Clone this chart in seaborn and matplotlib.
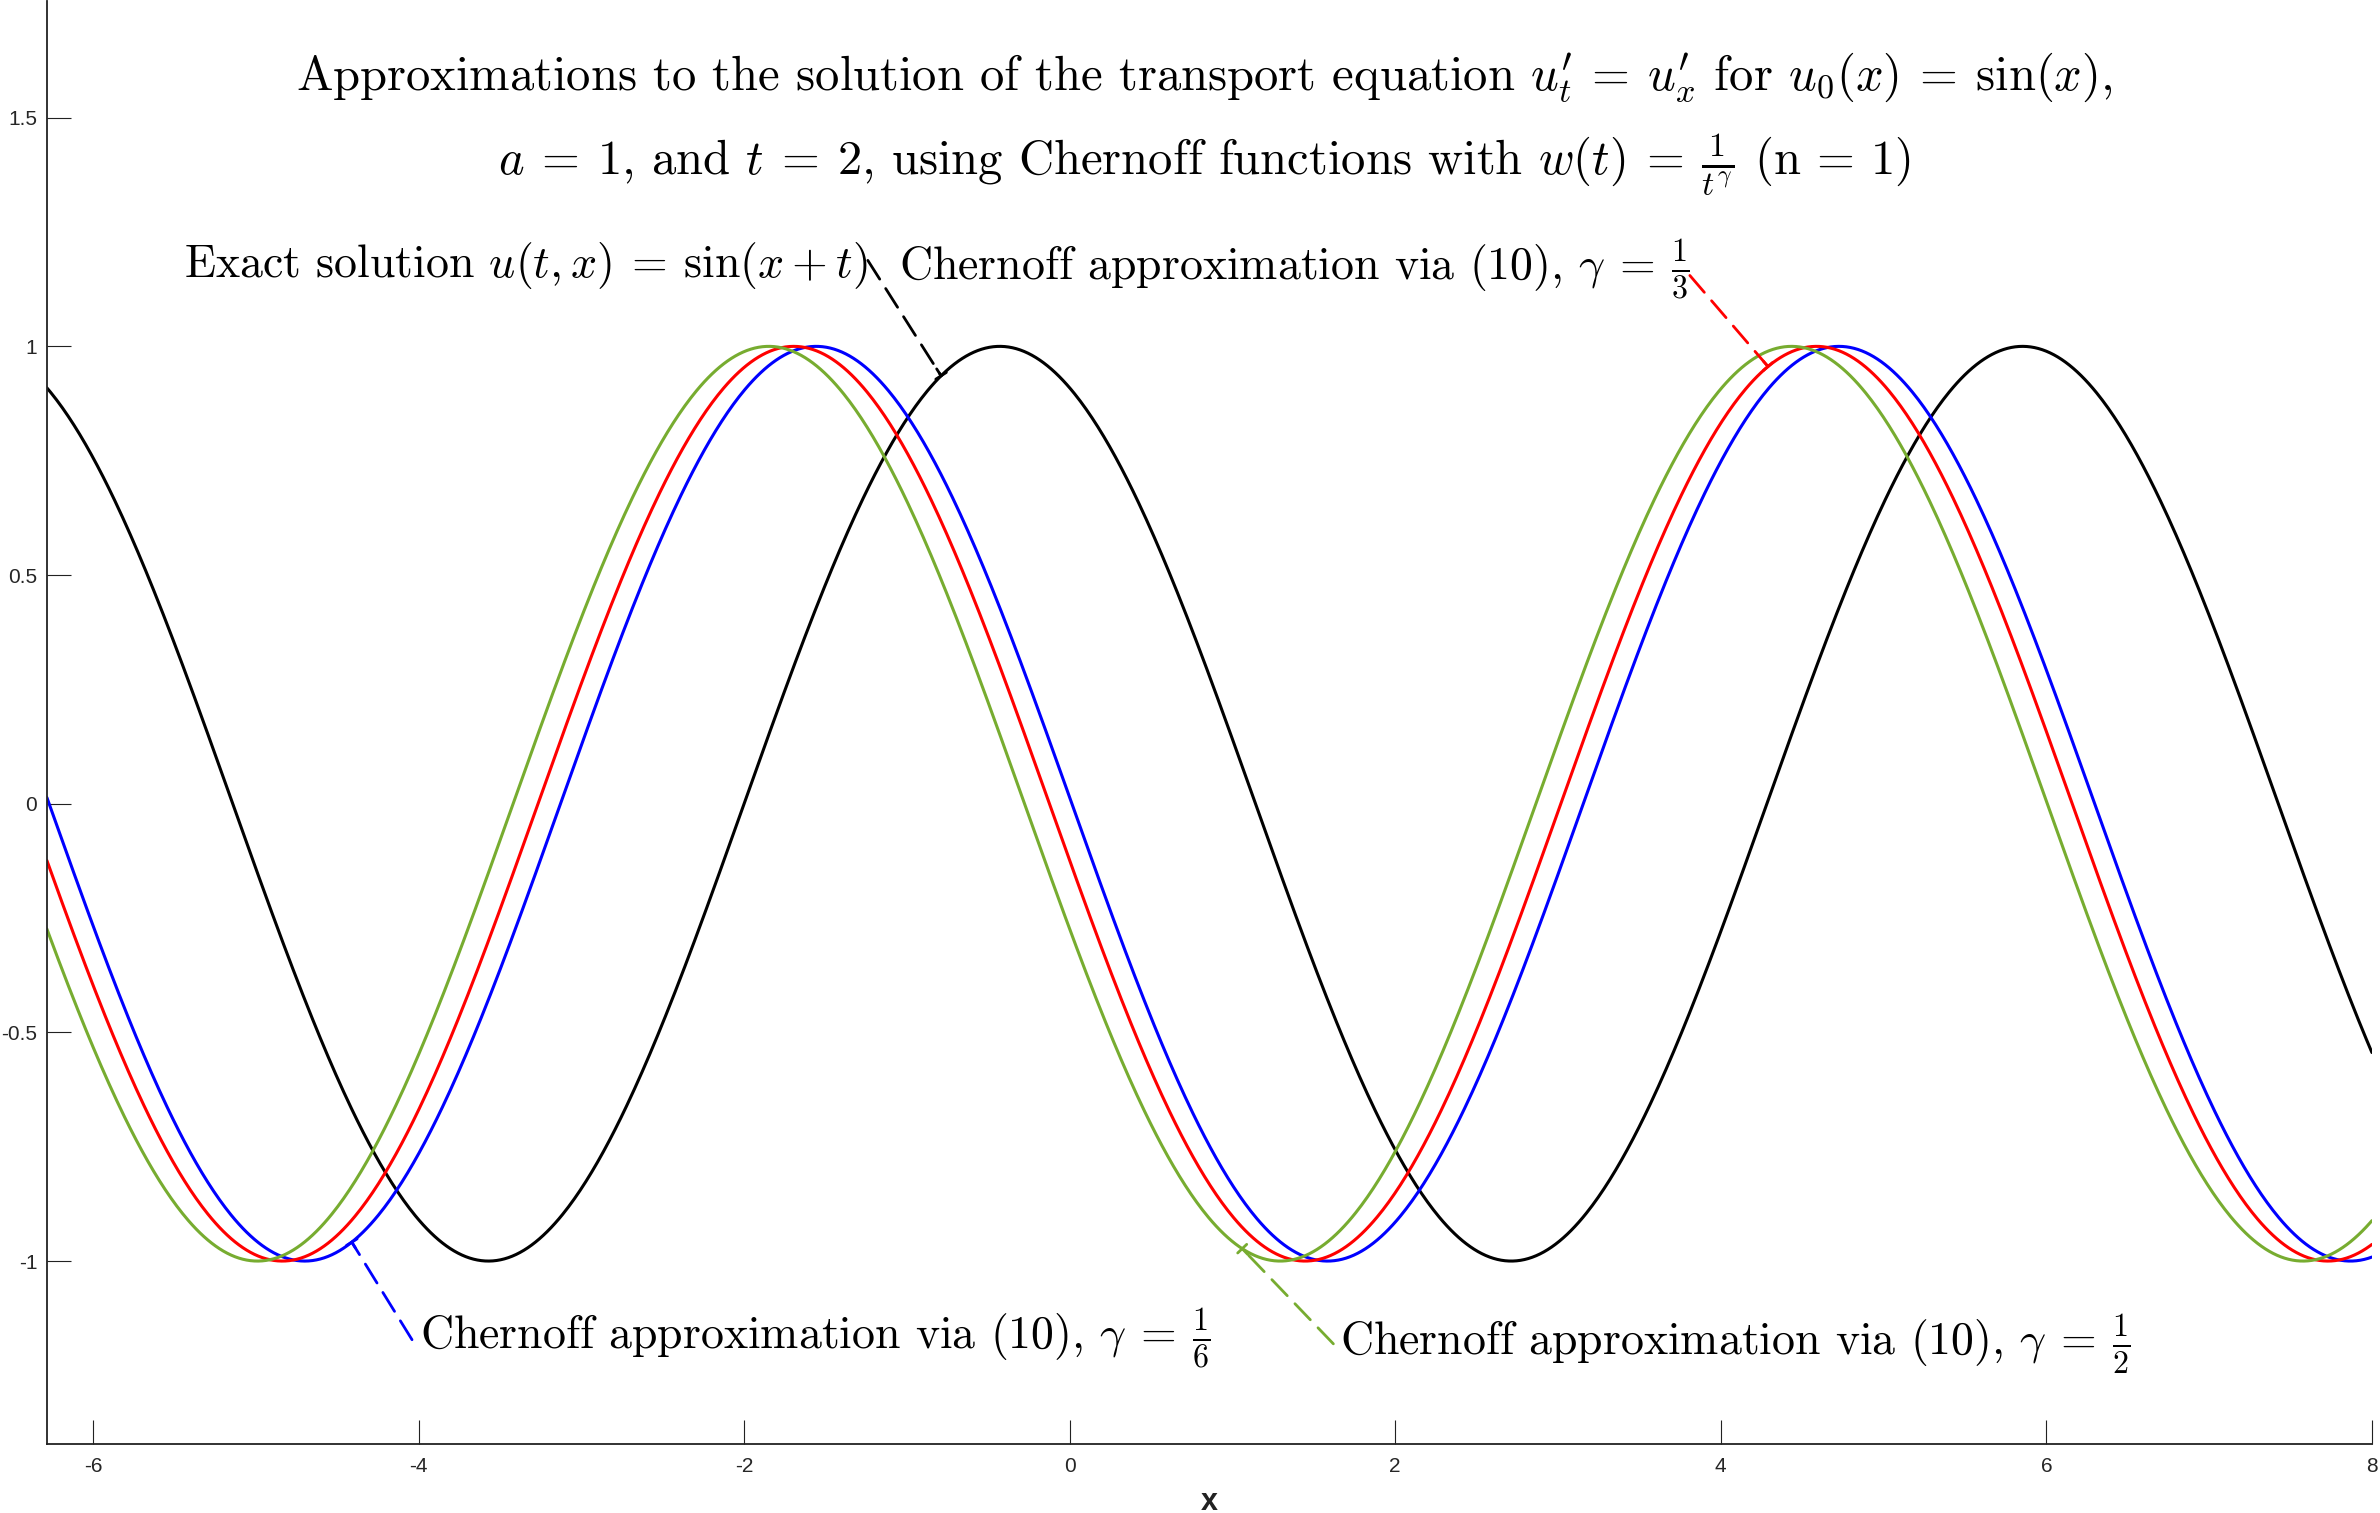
import numpy as np
import pandas as pd
import matplotlib
matplotlib.use("Agg")
import matplotlib.pyplot as plt
import seaborn as sns

# time and phase offsets (n = 1 approximations look like shifted sines)
t_final = 2.0
series_names = ["exact", "gamma_1_6", "gamma_1_3", "gamma_1_2"]
series_shift = [t_final, 3.128, 3.266, 3.419]
series_colors = ["black", "#0000ff", "#ff0000", "#77ac30"]

x_min, x_max = -2 * np.pi, 8.0
x_ticks = [-6, -4, -2, 0, 2, 4, 6, 8]
x_ticklabels = ["-6", "-4", "-2", "0", "2", "4", "6", "8"]
y_ticks = [-1, -0.5, 0, 0.5, 1, 1.5]
y_ticklabels = ["-1", "-0.5", "0", "0.5", "1", "1.5"]

title_1 = (r"Approximations to the solution of the transport equation "
           r"$u^{\prime}_{t} \:=\: u^{\prime}_{x}$ for $u_0(x) \:=\: \sin(x)$,")
title_2 = (r"$a \:=\: 1$, and $t \:=\: 2$, using Chernoff functions with "
           r"$w(t) \:=\: \frac{1}{t^\gamma}$ (n = 1)")
labels = [r"Exact solution $u(t, x) \:=\: \sin(x + t)$",
          r"Chernoff approximation via (10), $\gamma \:=\: \frac{1}{6}$",
          r"Chernoff approximation via (10), $\gamma \:=\: \frac{1}{3}$",
          r"Chernoff approximation via (10), $\gamma \:=\: \frac{1}{2}$"]
# where each label sits, where its dashed leader starts and which x it points to on the curve
label_pos = [(-5.44, 1.151), (-3.99, -1.19), (-1.05, 1.148), (1.66, -1.205)]
leader_start = [(-1.24, 1.188), (-4.04, -1.172), (3.81, 1.155), (1.62, -1.181)]
leader_x = [-0.79, -4.41, 4.29, 1.06]

sns.set_style("ticks")
plt.rcParams["font.family"] = ["Liberation Sans", "DejaVu Sans"]
plt.rcParams["mathtext.fontset"] = "cm"
plt.rcParams["axes.unicode_minus"] = False

xs = np.linspace(x_min, x_max, 1200)
frames = []
for name, shift in zip(series_names, series_shift):
    frames.append(pd.DataFrame({"x": xs, "u": np.sin(xs + shift), "series": name}))
df = pd.concat(frames, ignore_index=True)

fig = plt.figure(figsize=(23.8, 15.13), dpi=100)
ax = fig.add_axes([0.0197, 0.0456, 0.9769, 0.9537])

sns.lineplot(data=df, x="x", y="u", hue="series", hue_order=series_names,
             palette=dict(zip(series_names, series_colors)), estimator=None,
             linewidth=2.2, legend=False, ax=ax)

ax.set_xlim(x_min, x_max)
ax.set_ylim(-1.4, 1.755)
ax.set_xticks(x_ticks)
ax.set_xticklabels(x_ticklabels)
ax.set_yticks(y_ticks)
ax.set_yticklabels(y_ticklabels)
ax.tick_params(direction="in", length=17, width=0.8, labelsize=15, color="#222222")
ax.tick_params(axis="x", pad=9)
ax.tick_params(axis="y", pad=7)
sns.despine(ax=ax)
for side in ["left", "bottom"]:
    ax.spines[side].set_linewidth(1.3)
    ax.spines[side].set_color("#222222")
ax.set_xlabel("x", fontsize=22, fontweight="bold", color="#222222", labelpad=8)
ax.set_ylabel("")

title_font = dict(family="cmr10", fontsize=35, color="black")
note_font = dict(family="cmr10", fontsize=33, color="black")
ax.text(0.83, 1.562, title_1, ha="center", va="baseline", **title_font)
ax.text(0.83, 1.376, title_2, ha="center", va="baseline", **title_font)

for i, name in enumerate(series_names):
    ax.text(label_pos[i][0], label_pos[i][1], labels[i], ha="left", va="baseline", **note_font)
    x_end = leader_x[i]
    y_end = np.sin(x_end + series_shift[i])
    ax.annotate("", xy=(x_end, y_end), xytext=leader_start[i],
                arrowprops=dict(arrowstyle="-", color=series_colors[i], lw=2.0,
                                linestyle=(0, (8, 4)), shrinkA=0, shrinkB=0))
    # short solid cap where the leader touches the curve
    sx, sy = leader_start[i]
    ax.annotate("", xy=(x_end, y_end), xytext=(x_end + 0.06 * (sx - x_end), y_end + 0.06 * (sy - y_end)),
                arrowprops=dict(arrowstyle="-[, widthB=0.45, lengthB=0", color=series_colors[i], lw=2.0,
                                shrinkA=0, shrinkB=0, mutation_scale=10))

fig.savefig("out.png", dpi=100)
